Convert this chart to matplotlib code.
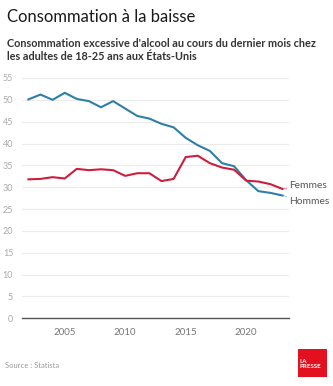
import matplotlib
matplotlib.use('Agg')
import matplotlib.pyplot as plt
from matplotlib.patches import Rectangle

plt.rcParams['font.family'] = ['Lato', 'DejaVu Sans']

years = list(range(2002, 2024))
hommes = [50.1, 51.2, 50.0, 51.6, 50.2, 49.7, 48.3, 49.7, 48.0, 46.3, 45.7,
          44.5, 43.7, 41.3, 39.6, 38.3, 35.5, 34.8, 31.6, 29.1, 28.7, 28.1]
femmes = [31.8, 31.9, 32.3, 32.0, 34.2, 33.9, 34.1, 33.9, 32.6, 33.2, 33.2,
          31.4, 31.9, 36.9, 37.2, 35.5, 34.5, 34.0, 31.5, 31.3, 30.7, 29.6]
yticks = [0, 5, 10, 15, 20, 25, 30, 35, 40, 45, 50, 55]
xticks = [2005, 2010, 2015, 2020]

blue = '#2e7fa6'
red = '#cc1f3f'

fig = plt.figure(figsize=(3.33, 3.86), dpi=100)
ax = fig.add_axes([0.0646, 0.1754, 0.8034, 0.6226])

ax.plot(years, hommes, color=blue, lw=1.5, solid_joinstyle='round')
ax.plot(years, femmes, color=red, lw=1.5, solid_joinstyle='round')

ax.set_xlim(2001.43, 2023.54)
ax.set_ylim(0, 55)
ax.set_yticks(yticks)
ax.set_xticks(xticks)
ax.grid(axis='y', color='#ebebeb', lw=0.8)
ax.set_axisbelow(True)
for s in ['top', 'right', 'left']:
    ax.spines[s].set_visible(False)
ax.spines['bottom'].set_color('#555555')
ax.spines['bottom'].set_linewidth(1)
ax.tick_params(axis='y', length=0, pad=6, labelsize=6.5, labelcolor='#aaaaaa')
ax.tick_params(axis='x', length=0, pad=7, labelsize=7, labelcolor='#777777')

# labels at line ends
ax.annotate('Femmes', xy=(years[-1], femmes[-1]), xytext=(years[-1] + 0.55, 30.5),
            fontsize=7.4, color='#555555', va='center',
            arrowprops=dict(arrowstyle='-', color=red, lw=0.5, linestyle=':',
                            shrinkA=0, shrinkB=1))
ax.annotate('Hommes', xy=(years[-1], hommes[-1]), xytext=(years[-1] + 0.55, 26.8),
            fontsize=7.4, color='#555555', va='center',
            arrowprops=dict(arrowstyle='-', color=blue, lw=0.5, linestyle=':',
                            shrinkA=0, shrinkB=1))
for t in ax.texts:
    t.set_clip_on(False)

fig.text(0.021, 0.955, 'Consommation à la baisse', fontsize=12,
         color='#1a1a1a', va='center')
fig.text(0.021, 0.87, "Consommation excessive d'alcool au cours du dernier mois chez\nles adultes de 18-25 ans aux États-Unis",
         fontsize=7.8, fontweight='bold', color='#333333', va='center', linespacing=1.2)
fig.text(0.015, 0.052, 'Source : Statista', fontsize=5.5, color='#999999', va='center')

fig.patches.append(Rectangle((0.895, 0.023), 0.087, 0.0725, transform=fig.transFigure,
                             facecolor='#e3101f', edgecolor='none'))
fig.text(0.9, 0.057, 'LA\nPRESSE', fontsize=4.5, fontweight='bold', color='white',
         va='center', ha='left', linespacing=0.95)

fig.savefig('out.png', dpi=100, facecolor='white')
